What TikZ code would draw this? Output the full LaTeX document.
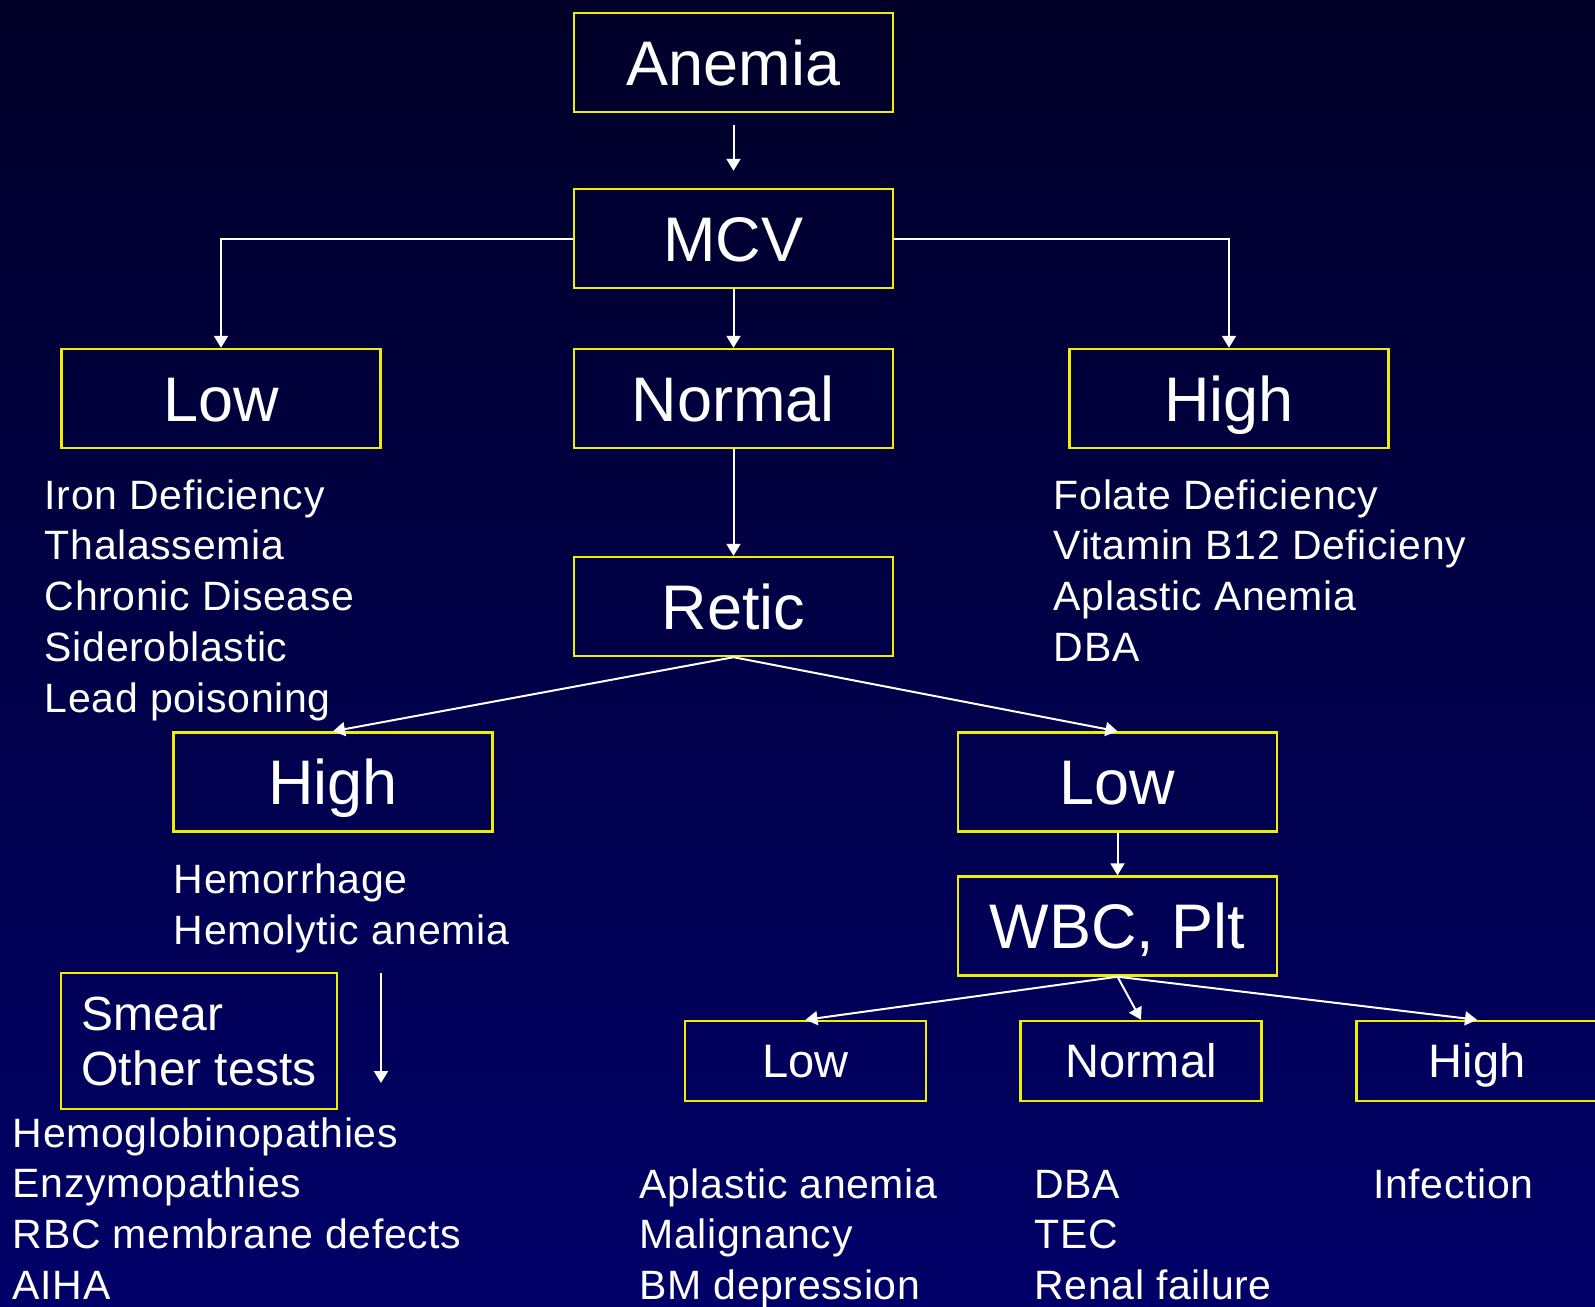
\documentclass[tikz,border=0pt]{standalone}
\usepackage{fontspec}
\setmainfont{Liberation Sans}
\newfontfamily\listfont[LetterSpace=1.6]{Liberation Sans}
\usetikzlibrary{arrows.meta}
\definecolor{boxyellow}{RGB}{238,238,0}
\definecolor{bgtop}{RGB}{0,0,40}
\definecolor{bgbottom}{RGB}{0,0,104}

\begin{document}
\begin{tikzpicture}[x=0.5pt,y=-0.5pt]
% Styles
\tikzstyle{main box}=[draw=boxyellow,line width=1.2pt,minimum width=159.5pt,minimum height=49.5pt,inner sep=0pt,text=white,font=\fontsize{31.5}{38}\selectfont,text height=22.5pt,text depth=0pt]
\tikzstyle{small box}=[draw=boxyellow,line width=1.2pt,minimum width=120.5pt,minimum height=40pt,inner sep=0pt,text=white,font=\fontsize{23.5}{28}\selectfont,text height=16.8pt,text depth=0pt]
\tikzstyle{test box}=[draw=boxyellow,line width=1.2pt,minimum width=138pt,minimum height=68pt,inner sep=0pt,text=white,font=\fontsize{24}{27.5}\selectfont,text depth=2.75pt]
\tikzstyle{list text}=[anchor=base west,inner sep=0pt,text=white,font=\listfont\fontsize{20.5}{25.4}\selectfont]
\tikzstyle{link}=[draw=white,line width=1pt,-{Triangle[width=7pt,length=6pt]}]

% background
\useasboundingbox (0,0) rectangle (1595,1306);
\clip (0,0) rectangle (1595,1306);
\shade[top color=bgtop,bottom color=bgbottom] (0,0) rectangle (1595,1306);

% draw the nodes
\node[main box] (anemia) at (733.5,62.5) {Anemia};
\node[main box] (mcv) at (733.5,238.5) {MCV};
\node[main box] (low) at (221,398.5) {Low};
\node[main box] (normal) at (733.5,398.5) {Normal};
\node[main box] (high) at (1229,398.5) {High};
\node[main box] (retic) at (733.5,606.5) {Retic};
\node[main box] (rhigh) at (333,782) {High};
\node[main box] (rlow) at (1117.5,782) {Low};
\node[main box] (wbc) at (1117.5,926) {WBC, Plt};
\node[test box] (smear) at (199,1041) {\begin{tabular}[b]{@{}l@{}}Smear\\Other tests\end{tabular}};
\foreach \name/\txt/\x in {wlow/Low/805.5,wnormal/Normal/1141,whigh/High/1477} {
\node[small box] (\name) at (\x,1061) {\txt};
}

% lists
\node[list text] (lowlist) at (44.5,509) {\begin{tabular}[t]{@{}l@{}}Iron Deficiency\\Thalassemia\\Chronic Disease\\Sideroblastic\\Lead poisoning\end{tabular}};
\node[list text] (highlist) at (1053.5,509) {\begin{tabular}[t]{@{}l@{}}Folate Deficiency\\Vitamin B12 Deficieny\\Aplastic Anemia\\DBA\end{tabular}};
\node[list text] (rhighlist) at (173.5,893.5) {\begin{tabular}[t]{@{}l@{}}Hemorrhage\\Hemolytic anemia\end{tabular}};
\node[list text] (hemolist) at (12.5,1147) {\begin{tabular}[t]{@{}l@{}}Hemoglobinopathies\\Enzymopathies\\RBC membrane defects\\AIHA\end{tabular}};
\node[list text] (wlowlist) at (639,1198) {\begin{tabular}[t]{@{}l@{}}Aplastic anemia\\Malignancy\\BM depression\end{tabular}};
\node[list text] (wnormallist) at (1034,1198) {\begin{tabular}[t]{@{}l@{}}DBA\\TEC\\Renal failure\end{tabular}};
\node[list text] (whighlist) at (1373,1198) {\begin{tabular}[t]{@{}l@{}}Infection\end{tabular}};

% arrows
\coordinate (vtop) at (381,973);
\coordinate (vbot) at (381,1083);
\draw[link,shorten <=6pt,shorten >=8.5pt] (anemia) -- (mcv);
\draw[link] (mcv.west) -| (low.north);
\draw[link] (mcv.east) -| (high.north);
\draw[link] (mcv) -- (normal);
\draw[link] (normal) -- (retic);
\draw[link] (retic.south) -- (rhigh.north);
\draw[link] (retic.south) -- (rlow.north);
\draw[link] (rlow) -- (wbc);
\foreach \name in {wlow,wnormal,whigh} {
\draw[link] (wbc.south) -- (\name.north);
}
\draw[link] (vtop) -- (vbot);

\end{tikzpicture}
\end{document}
